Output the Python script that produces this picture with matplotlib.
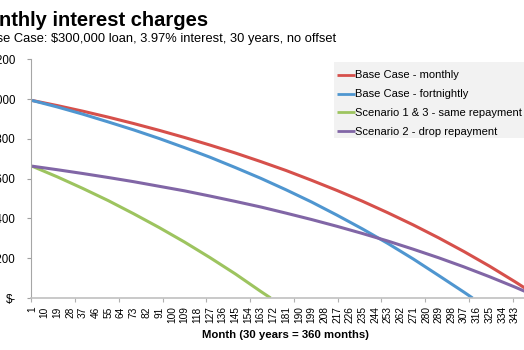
import matplotlib
matplotlib.use("Agg")
import matplotlib.pyplot as plt
from matplotlib.patches import Rectangle
from matplotlib.ticker import FixedLocator

plt.rcParams['font.family'] = ['Liberation Sans', 'DejaVu Sans']

# values (monthly interest, $) at every 18th month
months_full = [1, 19, 37, 55, 73, 91, 109, 127, 145, 163, 181, 199, 217,
               235, 253, 271, 289, 307, 325, 343, 360]
base_monthly = [992, 966, 938, 908, 876, 842, 806, 768, 728, 685, 640, 591, 540,
                486, 428, 367, 302, 233, 160, 82, 5]
drop_repayment = [662, 644, 625, 605, 584, 561, 538, 512, 485, 457, 426, 394, 360,
                  324, 286, 245, 202, 156, 107, 55, 3]

months_fortnightly = [1, 19, 37, 55, 73, 91, 109, 127, 145, 163, 181, 199, 217,
                      235, 253, 271, 289, 307, 313]
base_fortnightly = [992, 959, 923, 884, 844, 801, 755, 707, 655, 601, 543, 482, 416,
                    347, 274, 196, 113, 29, 0]

months_same = [1, 19, 37, 55, 73, 91, 109, 127, 145, 163, 170]
same_repayment = [662, 608, 550, 489, 423, 354, 281, 203, 121, 33, 0]

series = [
    ("Base Case - monthly", months_full, base_monthly, "#d6504b"),
    ("Base Case - fortnightly", months_fortnightly, base_fortnightly, "#4f96d0"),
    ("Scenario 1 & 3 - same repayment", months_same, same_repayment, "#9dc45f"),
    ("Scenario 2 - drop repayment", months_full, drop_repayment, "#8166a6"),
]

y_ticks = [0, 200, 400, 600, 800, 1000, 1200]
y_labels = ["$-", "$200", "$400", "$600", "$800", "$1,000", "$1,200"]
x_ticks = list(range(1, 344, 9))

fig = plt.figure(figsize=(5.24, 3.5), dpi=100)
W, H = 524, 350
ax = fig.add_axes([31.3 / W, 52 / H, 508.3 / W, 239 / H])

for label, xs, ys, color in series:
    ax.plot(xs, ys, color=color, lw=2.2, label=label, solid_capstyle='butt')

ax.set_xlim(0.5, 360.5)
ax.set_ylim(0, 1200)

ax.set_yticks(y_ticks)
ax.set_yticklabels(y_labels, fontsize=8.3)
ax.set_xticks(x_ticks)
ax.set_xticklabels([str(v) for v in x_ticks], rotation=90, fontsize=7.3)
ax.xaxis.set_minor_locator(FixedLocator([0.5 + 31 * k for k in range(12)]))

ax.tick_params(axis='x', which='major', length=0, pad=6)
ax.tick_params(axis='x', which='minor', length=3, color='#b0b0b0', width=0.8)
ax.tick_params(axis='y', length=3, color='#a0a0a0', width=0.8, pad=8)

for side in ['top', 'right']:
    ax.spines[side].set_visible(False)
ax.spines['left'].set_color('#a6a6a6')
ax.spines['left'].set_linewidth(0.8)
ax.spines['bottom'].set_color('#c0c0c0')
ax.spines['bottom'].set_linewidth(1.2)

ax.set_xlabel("Month (30 years = 360 months)", fontsize=8.2, fontweight='bold', labelpad=5)

fig.text(208 / W, 1 - 20 / H, "Monthly interest charges", fontsize=14.5,
         fontweight='bold', ha='right', va='center')
fig.text(336 / W, 1 - 39 / H, "Base Case: $300,000 loan, 3.97% interest, 30 years, no offset",
         fontsize=9.3, ha='right', va='center')

# legend background box (runs off the right edge like the reference)
ax.add_patch(Rectangle((334 / W, 1 - 138 / H), 200 / W, 76 / H,
                       transform=fig.transFigure, facecolor='#f2f2f2',
                       edgecolor='none', zorder=4, clip_on=False))

leg = ax.legend(loc='upper left', bbox_to_anchor=(336.5 / W, 1 - 70.5 / H),
                bbox_transform=fig.transFigure, fontsize=8, frameon=False,
                handlelength=1.7, handletextpad=0.0, labelspacing=0.8,
                borderpad=0, borderaxespad=0)
leg.set_zorder(5)
for line in leg.get_lines():
    line.set_linewidth(2)

fig.savefig("out.png", dpi=100)
